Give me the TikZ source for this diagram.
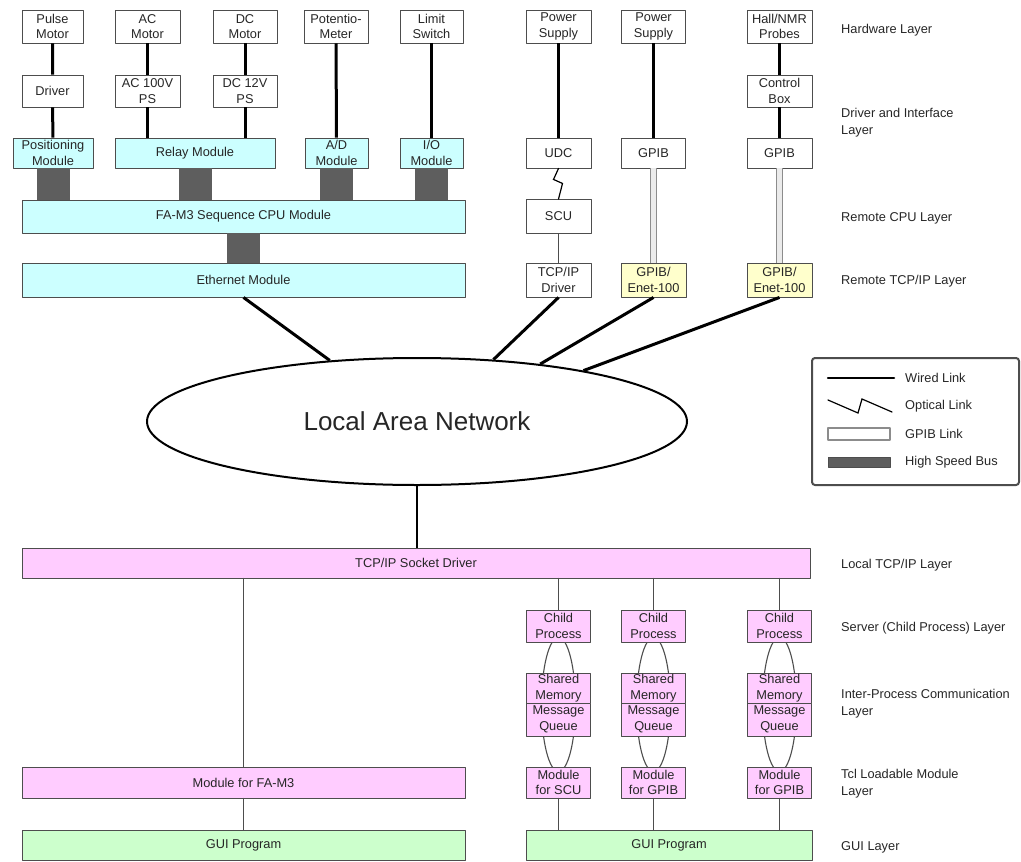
\documentclass[tikz,border=0pt]{standalone}
\usepackage{fontspec}
\setmainfont{Liberation Sans}
\usetikzlibrary{shapes.geometric,backgrounds,calc}
\definecolor{cyanfill}{HTML}{CCFFFF}
\definecolor{pinkfill}{HTML}{FFCCFF}
\definecolor{yellowfill}{HTML}{FFFFCC}
\definecolor{greenfill}{HTML}{CCFFCC}
\definecolor{busgray}{HTML}{5E5E5E}
\definecolor{edgegray}{HTML}{4D4D4D}
\definecolor{linkgray}{HTML}{8C8C8C}
\definecolor{txtgray}{HTML}{262626}

\begin{document}
\begin{tikzpicture}[x=1pt,y=-1pt,line join=round,line cap=round]
	\tikzset{every node/.style={font=\fontsize{12.8}{15.5}\selectfont,text=txtgray},
		unit/.style={draw=edgegray,line width=0.9pt,fill=white,inner sep=0pt,align=center,minimum width=64,minimum height=32},
		cyanunit/.style={unit,fill=cyanfill},
		pinkunit/.style={unit,fill=pinkfill},
		yellowunit/.style={unit,fill=yellowfill},
		greenunit/.style={unit,fill=greenfill},
		layer/.style={anchor=west,align=left,inner sep=2pt,font=\fontsize{12.8}{17}\selectfont},
		wired/.style={line width=3pt,black,line cap=butt},
		thinwire/.style={line width=1pt,edgegray},
		optical/.style={line width=1.2pt,black,line join=miter},
		gpiblink/.style={draw=linkgray,line width=1.2pt,double=black!8,double distance=4.5pt,line cap=butt},
		hsbus/.style={line width=33pt,draw=busgray,line cap=butt},
		ipc/.style={line width=1.1pt,edgegray}}
	\useasboundingbox (0,0) rectangle (1021,862);
	% hardware layer
	\node[unit,minimum width=61,minimum height=33] (pm) at (52.5,26.5) {Pulse\\Motor};
	\node[unit,minimum width=65,minimum height=33] (acm) at (147.5,26.5) {AC\\Motor};
	\node[unit,minimum height=33] (dcm) at (245,26.5) {DC\\Motor};
	\node[unit,minimum height=33] (pot) at (336,26.5) {Potentio-\\Meter};
	\node[unit,minimum width=63,minimum height=33] (lim) at (431.5,26.5) {Limit\\Switch};
	\node[unit,minimum width=65,minimum height=33] (ps1) at (558.5,26.5) {Power\\Supply};
	\node[unit,minimum height=33] (ps2) at (653.5,26.5) {Power\\Supply};
	\node[unit,minimum width=65,minimum height=33] (hall) at (779.5,26.5) {Hall/NMR\\Probes};
	% driver and interface layer
	\node[unit,minimum width=61] (drv) at (52.5,91) {Driver};
	\node[unit,minimum width=65] (acps) at (147.5,91) {AC 100V\\PS};
	\node[unit] (dcps) at (245,91) {DC 12V\\PS};
	\node[unit,minimum width=65] (cbox) at (779.5,91) {Control\\Box};
	\node[cyanunit,minimum width=80,minimum height=30] (posm) at (53,153) {Positioning\\Module};
	\node[cyanunit,minimum width=160,minimum height=30] (relay) at (195,153) {Relay Module};
	\node[cyanunit,minimum width=63,minimum height=30] (adm) at (336.5,153) {A/D\\Module};
	\node[cyanunit,minimum width=63,minimum height=30] (iom) at (431.5,153) {I/O\\Module};
	\node[unit,minimum width=65,minimum height=30] (udc) at (558.5,153) {UDC};
	\node[unit,minimum height=30] (gpib1) at (653.5,153) {GPIB};
	\node[unit,minimum width=65,minimum height=30] (gpib2) at (779.5,153) {GPIB};
	% remote cpu and tcp/ip layers
	\node[cyanunit,minimum width=443,minimum height=33] (cpu) at (243.5,216.5) {FA-M3 Sequence CPU Module};
	\node[unit,minimum width=65,minimum height=34] (scu) at (558.5,216.5) {SCU};
	\node[cyanunit,minimum width=443,minimum height=34] (eth) at (243.5,280) {Ethernet Module};
	\node[unit,minimum width=65,minimum height=34] (tcpd) at (558.5,280) {TCP/IP\\Driver};
	\node[yellowunit,minimum width=65,minimum height=34] (enet1) at (653.5,280) {GPIB/\\Enet-100};
	\node[yellowunit,minimum width=65,minimum height=34] (enet2) at (779.5,280) {GPIB/\\Enet-100};
	\draw[wired] (pm) -- (drv) -- (posm);
	\draw[wired] (acm) -- (acps) -- (acps.south |- relay.north);
	\draw[wired] (dcm) -- (dcps) -- (dcps.south |- relay.north);
	\draw[wired] (pot) -- (adm);
	\draw[wired] (lim) -- (iom);
	\draw[wired] (ps1) -- (udc);
	\draw[wired] (ps2) -- (gpib1);
	\draw[wired] (hall) -- (cbox) -- (gpib2);
	\draw[hsbus] (posm.south) -- (posm.south |- cpu.north);
	\draw[hsbus] (relay.south) -- (relay.south |- cpu.north);
	\draw[hsbus] (adm.south) -- (adm.south |- cpu.north);
	\draw[hsbus] (iom.south) -- (iom.south |- cpu.north);
	\draw[hsbus] (cpu) -- (eth);
	\draw[optical] (udc.south) -- ++(-5,11) -- ++(9,4) -- (scu.north);
	\draw[thinwire] (scu) -- (tcpd);
	\draw[gpiblink] (gpib1) -- (enet1);
	\draw[gpiblink] (gpib2) -- (enet2);
	% lan
	\node[draw=black,line width=2pt,ellipse,minimum width=540,minimum height=127,inner sep=0pt,font=\fontsize{26}{30}\selectfont] (lan) at (417,421.5) {Local Area Network};
	\draw[wired] (eth.south) -- (lan.145.4);
	\draw[wired] (tcpd.south) -- (lan.39.9);
	\draw[wired] (enet1.south) -- (lan.25.8);
	\draw[wired] (enet2.south) -- (lan.17.6);
	% legend
	\node[draw=edgegray,line width=2pt,rounded corners=3pt,minimum width=207,minimum height=127,inner sep=0pt] (legend) at (915.5,421.5) {};
	\coordinate (w1) at (828,378);
	\coordinate (w2) at (894,378);
	\draw[line width=2.5pt] (w1) -- (w2);
	\draw[optical] (828,400) -- (858,413) -- (862,399) -- (892,412);
	\draw[draw=linkgray,line width=1.5pt,fill=white] (828,428) rectangle (890,440);
	\draw[draw=edgegray,fill=busgray] (828,457) rectangle (890,467);
	\node[layer] (lw) at (903,378) {Wired Link};
	\node[layer] (lo) at (903,406) {Optical Link};
	\node[layer] (lg) at (903,434) {GPIB Link};
	\node[layer] (lb) at (903,462) {High Speed Bus};
	% local side
	\node[pinkunit,minimum width=788,minimum height=30] (sock) at (416,563) {TCP/IP Socket Driver};
	\node[pinkunit,minimum width=443,minimum height=31] (fam) at (243.5,782.5) {Module for FA-M3};
	\node[greenunit,minimum width=443,minimum height=30] (gui1) at (243.5,845) {GUI Program};
	\node[greenunit,minimum width=286,minimum height=30] (gui2) at (669,845) {GUI Program};
	\draw[wired,line width=2.5pt] (lan.south) -- (lan.south |- sock.north);
	\draw[thinwire] (fam.north |- sock.south) -- (fam.north);
	\draw[thinwire] (fam) -- (gui1);
	\foreach \i/\x/\t in {1/558.5/SCU,2/653.5/GPIB,3/779.5/GPIB}{
		\node[pinkunit] (cp\i) at (\x,626) {Child\\Process};
		\node[pinkunit,minimum height=30] (sm\i) at (\x,688) {Shared\\Memory};
		\node[pinkunit,minimum height=33] (mq\i) at (\x,719.5) {Message\\Queue};
		\node[pinkunit,minimum height=31] (mf\i) at (\x,782.5) {Module\\for \t};
		\draw[thinwire] (cp\i.north |- sock.south) -- (cp\i.north);
		\draw[thinwire] (mf\i.south) -- (mf\i.south |- gui2.north);
		\begin{scope}[on background layer]
			\draw[ipc] ($(cp\i.south)!.5!(mf\i.north)$) ellipse [x radius=17,y radius=67];
		\end{scope}
	}
	% layer names
	\node[layer] (l1) at (839,30) {Hardware Layer};
	\node[layer] (l2) at (839,123) {Driver and Interface\\Layer};
	\node[layer] (l3) at (839,218) {Remote CPU Layer};
	\node[layer] (l4) at (839,281) {Remote TCP/IP Layer};
	\node[layer] (l5) at (839,565) {Local TCP/IP Layer};
	\node[layer] (l6) at (839,628) {Server (Child Process) Layer};
	\node[layer] (l7) at (839,704) {Inter-Process Communication\\Layer};
	\node[layer] (l8) at (839,784) {Tcl Loadable Module\\Layer};
	\node[layer] (l9) at (839,847) {GUI Layer};
\end{tikzpicture}
\end{document}
